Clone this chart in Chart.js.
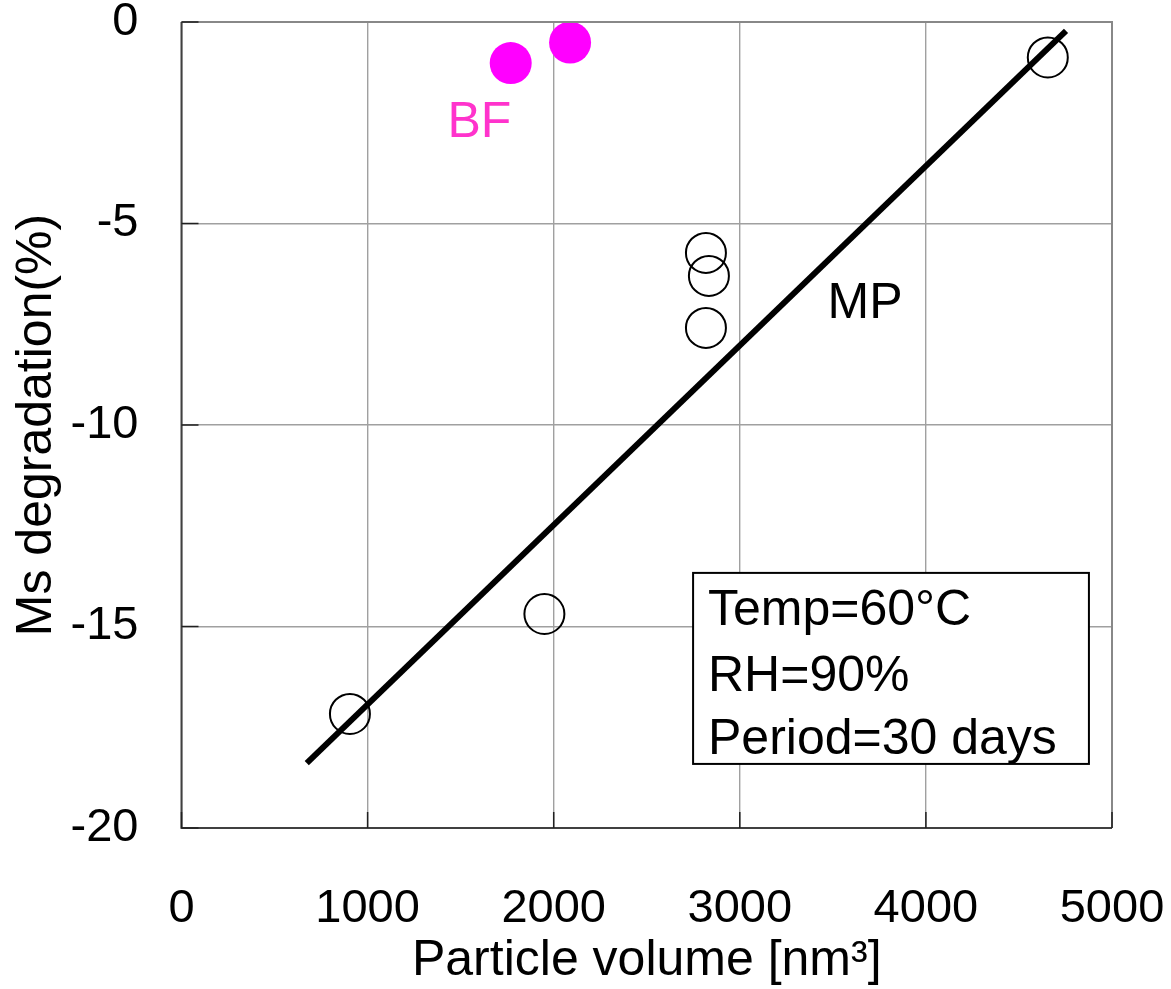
<!DOCTYPE html>
<html>
<head>
<meta charset="utf-8">
<script src="https://cdn.jsdelivr.net/npm/chart.js@4.4.1/dist/chart.umd.min.js"></script>
<style>
  html, body { margin: 0; padding: 0; background: #ffffff; }
  canvas { display: block; }
</style>
</head>
<body>
<canvas id="c" width="1171" height="989"></canvas>
<script>
// ---- data ----
const mpVolume      = [905, 1950, 2818, 2834, 2818, 4655];
const mpDegradation = [-17.17, -14.69, -5.73, -6.30, -7.59, -0.88];
const bfVolume      = [1769, 2088];
const bfDegradation = [-1.02, -0.51];
const fitVolume      = [673, 4753];
const fitDegradation = [-18.39, -0.22];
const xTickValues = [0, 1000, 2000, 3000, 4000, 5000];
const yTickValues = [0, -5, -10, -15, -20];
const conditionLines = ['Temp=60°C', 'RH=90%', 'Period=30 days'];

const FONT = "'Liberation Sans', Arial, sans-serif";

function pts(xs, ys) { return xs.map((x, i) => ({ x: x, y: ys[i] })); }

const decor = {
  id: 'decor',
  afterDraw(chart) {
    const ctx = chart.ctx;
    const a = chart.chartArea;
    const xs = chart.scales.x, ys = chart.scales.y;
    ctx.save();
    // frame: top/right grey, left/bottom dark
    ctx.lineWidth = 2;
    ctx.strokeStyle = '#888888';
    ctx.beginPath();
    ctx.moveTo(a.left, a.top); ctx.lineTo(a.right, a.top); ctx.lineTo(a.right, a.bottom);
    ctx.stroke();
    ctx.strokeStyle = '#404040';
    ctx.beginPath();
    ctx.moveTo(a.left, a.top); ctx.lineTo(a.left, a.bottom); ctx.lineTo(a.right, a.bottom);
    ctx.stroke();
    // inward tick marks
    ctx.lineWidth = 1.5;
    ctx.strokeStyle = '#202020';
    ctx.beginPath();
    yTickValues.forEach(v => {
      const p = ys.getPixelForValue(v);
      ctx.moveTo(a.left, p); ctx.lineTo(a.left + 17, p);
    });
    xTickValues.forEach(v => {
      const p = xs.getPixelForValue(v);
      ctx.moveTo(p, a.bottom); ctx.lineTo(p, a.bottom - 16);
    });
    ctx.stroke();

    // text labels for the series
    ctx.textBaseline = 'middle';
    ctx.textAlign = 'center';
    ctx.font = '50px ' + FONT;
    ctx.fillStyle = '#ff33cc';
    ctx.fillText('BF', xs.getPixelForValue(1601), ys.getPixelForValue(-2.52));
    ctx.fillStyle = '#000000';
    ctx.fillText('MP', xs.getPixelForValue(3673), ys.getPixelForValue(-7.01));

    // conditions box
    const bx1 = xs.getPixelForValue(2749), bx2 = xs.getPixelForValue(4876);
    const by1 = ys.getPixelForValue(-13.67), by2 = ys.getPixelForValue(-18.41);
    ctx.fillStyle = '#ffffff';
    ctx.fillRect(bx1, by1, bx2 - bx1, by2 - by1);
    ctx.lineWidth = 2;
    ctx.strokeStyle = '#000000';
    ctx.strokeRect(bx1, by1, bx2 - bx1, by2 - by1);
    ctx.fillStyle = '#000000';
    ctx.textAlign = 'left';
    const tx = xs.getPixelForValue(2829);
    const lineY = [-14.61, -16.25, -17.81];
    conditionLines.forEach((t, i) => ctx.fillText(t, tx, ys.getPixelForValue(lineY[i])));
    ctx.restore();
  }
};

new Chart(document.getElementById('c'), {
  type: 'scatter',
  data: {
    datasets: [
      {
        type: 'line',
        label: 'fit',
        data: pts(fitVolume, fitDegradation),
        borderColor: '#000000',
        borderWidth: 6,
        pointRadius: 0,
        fill: false,
        order: 0
      },
      {
        label: 'MP',
        data: pts(mpVolume, mpDegradation),
        pointRadius: 20,
        pointBorderWidth: 2,
        pointBorderColor: '#000000',
        pointBackgroundColor: 'rgba(0,0,0,0)',
        borderColor: '#000000',
        backgroundColor: 'rgba(0,0,0,0)',
        order: 1
      },
      {
        label: 'BF',
        data: pts(bfVolume, bfDegradation),
        pointRadius: 21,
        pointBorderWidth: 0,
        pointBackgroundColor: '#ff00ff',
        pointBorderColor: '#ff00ff',
        backgroundColor: '#ff00ff',
        borderColor: '#ff00ff',
        clip: false,
        order: 2
      }
    ]
  },
  options: {
    responsive: false,
    animation: false,
    devicePixelRatio: 1,
    layout: { padding: { top: 22, right: 59, left: 0, bottom: 0 } },
    plugins: { legend: { display: false }, tooltip: { enabled: false } },
    scales: {
      x: {
        type: 'linear',
        min: 0, max: 5000,
        afterBuildTicks: s => { s.ticks = xTickValues.map(v => ({ value: v })); },
        ticks: {
          color: '#000000',
          font: { family: FONT, size: 47 },
          padding: 53,
          maxRotation: 0,
          callback: v => String(v)
        },
        grid: { color: '#a0a0a0', lineWidth: 1.4, drawTicks: false },
        border: { display: false },
        title: {
          display: true,
          text: 'Particle volume [nm³]',
          color: '#000000',
          font: { family: FONT, size: 50, lineHeight: 1.1 },
          padding: { top: 0, bottom: 0 }
        },
        afterFit: s => { s.height = 161; s.paddingLeft = 0; s.paddingRight = 0; }
      },
      y: {
        type: 'linear',
        min: -20, max: 0,
        afterBuildTicks: s => { s.ticks = yTickValues.slice().reverse().map(v => ({ value: v })); },
        ticks: {
          color: '#000000',
          font: { family: FONT, size: 47 },
          padding: 43,
          callback: v => String(v)
        },
        grid: { color: '#a0a0a0', lineWidth: 1.4, drawTicks: false },
        border: { display: false },
        title: {
          display: true,
          text: 'Ms degradation(%)',
          color: '#000000',
          font: { family: FONT, size: 50, lineHeight: 1.2 },
          padding: { top: 7, bottom: 0 }
        },
        afterFit: s => { s.width = 181.5; s.paddingTop = 0; s.paddingBottom = 0; }
      }
    }
  },
  plugins: [decor]
});
</script>
</body>
</html>
